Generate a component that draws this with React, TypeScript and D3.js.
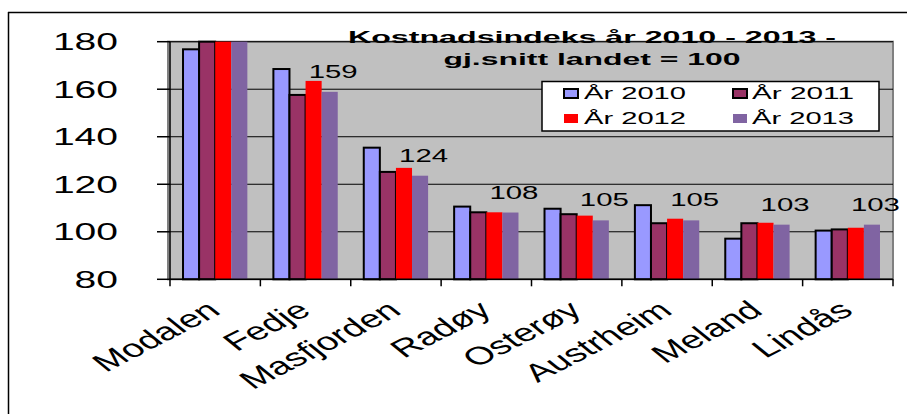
import React from "react";
import * as d3 from "d3";

const categories = ["Modalen", "Fedje", "Masfjorden", "Radøy", "Osterøy", "Austrheim", "Meland", "Lindås"];
const years = ["År 2010", "År 2011", "År 2012", "År 2013"];
const values2010 = [176.8, 168.5, 135.4, 110.6, 109.7, 111.2, 97.1, 100.5];
const values2011 = [196, 157.6, 125.2, 108.2, 107.4, 103.6, 103.6, 101.0];
const values2012 = [205, 163.5, 126.9, 108.2, 106.8, 105.5, 103.8, 101.7];
const values2013 = [201, 158.9, 123.6, 108.1, 104.8, 104.8, 103.0, 103.0];
const yTicks = [80, 100, 120, 140, 160, 180];
const colors = ["#9999FF", "#993366", "#FF0000", "#8064A2"];
const outlined = [true, true, false, false];
const titleLines = ["Kostnadsindeks år 2010 - 2013 -", "gj.snitt landet = 100"];

const series = [values2010, values2011, values2012, values2013];
const FONT = "'Liberation Sans', Arial, sans-serif";

export default function App() {
  const W = 907, H = 414;
  const left = 170, right = 893, top = 41.7, bottom = 279.3;
  const y = d3.scaleLinear().domain([80, 180]).range([bottom, top]).clamp(true);
  const x = d3.scaleBand<string>().domain(categories).range([left, right]).paddingInner(0.288).paddingOuter(0.144);
  const xs = d3.scaleBand<string>().domain(years).range([0, x.bandwidth()]).padding(0);
  const step = x.step();
  const boundaries = d3.range(categories.length + 1).map((i) => left + i * step);

  return (
    <svg width={W} height={H} style={{ position: "absolute", left: 0, top: 0, background: "#fff" }} fontFamily={FONT}>
      {/* outer frame */}
      <line x1={8} y1={12.5} x2={W} y2={12.5} stroke="#000" strokeWidth={1.5} />
      <line x1={8.5} y1={12} x2={8.5} y2={H} stroke="#000" strokeWidth={1.5} />

      {/* plot area */}
      <rect x={168} y={top} width={right - 168} height={bottom - top} fill="#C0C0C0" stroke="#808080" strokeWidth={2} />
      {yTicks.filter((t) => t > 80).map((t) => (
        <line key={t} x1={left} x2={right} y1={y(t)} y2={y(t)} stroke="#000" strokeWidth={1} />
      ))}

      {/* bars */}
      {categories.map((c, ci) => (
        <g key={c}>
          {series.map((s, si) => {
            const bx = (x(c) as number) + (xs(years[si]) as number);
            const by = y(s[ci]);
            return (
              <rect
                key={si}
                x={bx}
                y={by}
                width={xs.bandwidth()}
                height={bottom - by}
                fill={colors[si]}
                stroke={outlined[si] ? "#000" : "none"}
                strokeWidth={outlined[si] ? 2 : 0}
              />
            );
          })}
        </g>
      ))}

      {/* data labels for 2013 */}
      {categories.map((c, ci) => {
        const v = values2013[ci];
        if (v > 180) return null;
        const bx = (x(c) as number) + (xs(years[3]) as number) + xs.bandwidth() / 2 + 3.5;
        return (
          <text key={c} x={bx} y={y(v) - 14} fontSize={18} textAnchor="middle" textLength={49} lengthAdjust="spacingAndGlyphs" fill="#000">
            {Math.round(v)}
          </text>
        );
      })}

      {/* y axis */}
      <line x1={left} x2={left} y1={top} y2={bottom} stroke="#000" strokeWidth={1.5} />
      {yTicks.map((t) => (
        <g key={t}>
          <line x1={157} x2={left} y1={y(t)} y2={y(t)} stroke="#000" strokeWidth={1.5} />
          <text x={118} y={y(t) + 8.5} fontSize={24.7} textAnchor="end" textLength={String(t).length * 21.7} lengthAdjust="spacingAndGlyphs" fill="#000">
            {t}
          </text>
        </g>
      ))}

      {/* x axis */}
      <line x1={left} x2={right} y1={bottom} y2={bottom} stroke="#000" strokeWidth={1.5} />
      {boundaries.map((b, i) => (
        <line key={i} x1={b} x2={b} y1={bottom} y2={bottom + 7} stroke="#000" strokeWidth={1.5} />
      ))}
      {categories.map((c) => {
        const cx = (x(c) as number) + x.bandwidth() / 2 + 7;
        return (
          <text key={c} transform={`translate(${cx},313) scale(1.55,1) rotate(-38.5)`} fontSize={25} textAnchor="end" fill="#000">
            {c}
          </text>
        );
      })}

      {/* title */}
      <text x={592} y={43.3} fontSize={16} fontWeight="bold" textAnchor="middle" textLength={488} lengthAdjust="spacingAndGlyphs" fill="#000">
        {titleLines[0]}
      </text>
      <text x={592} y={64.5} fontSize={16} fontWeight="bold" textAnchor="middle" textLength={297} lengthAdjust="spacingAndGlyphs" fill="#000">
        {titleLines[1]}
      </text>

      {/* legend */}
      <rect x={542} y={81.5} width={337} height={49.5} fill="#fff" stroke="#000" strokeWidth={1.5} />
      {years.map((yr, i) => {
        const col = i % 2, row = Math.floor(i / 2);
        const mx = col === 0 ? 564 : 733;
        const tx = col === 0 ? 584 : 752;
        const base = row === 0 ? 99 : 124;
        return (
          <g key={yr}>
            <rect x={mx} y={base - 10} width={14} height={9} fill={colors[i]} stroke={outlined[i] ? "#000" : "none"} strokeWidth={outlined[i] ? 2 : 0} />
            <text x={tx} y={base} fontSize={16.3} textLength={102} lengthAdjust="spacingAndGlyphs" fill="#000">
              {yr}
            </text>
          </g>
        );
      })}
    </svg>
  );
}
